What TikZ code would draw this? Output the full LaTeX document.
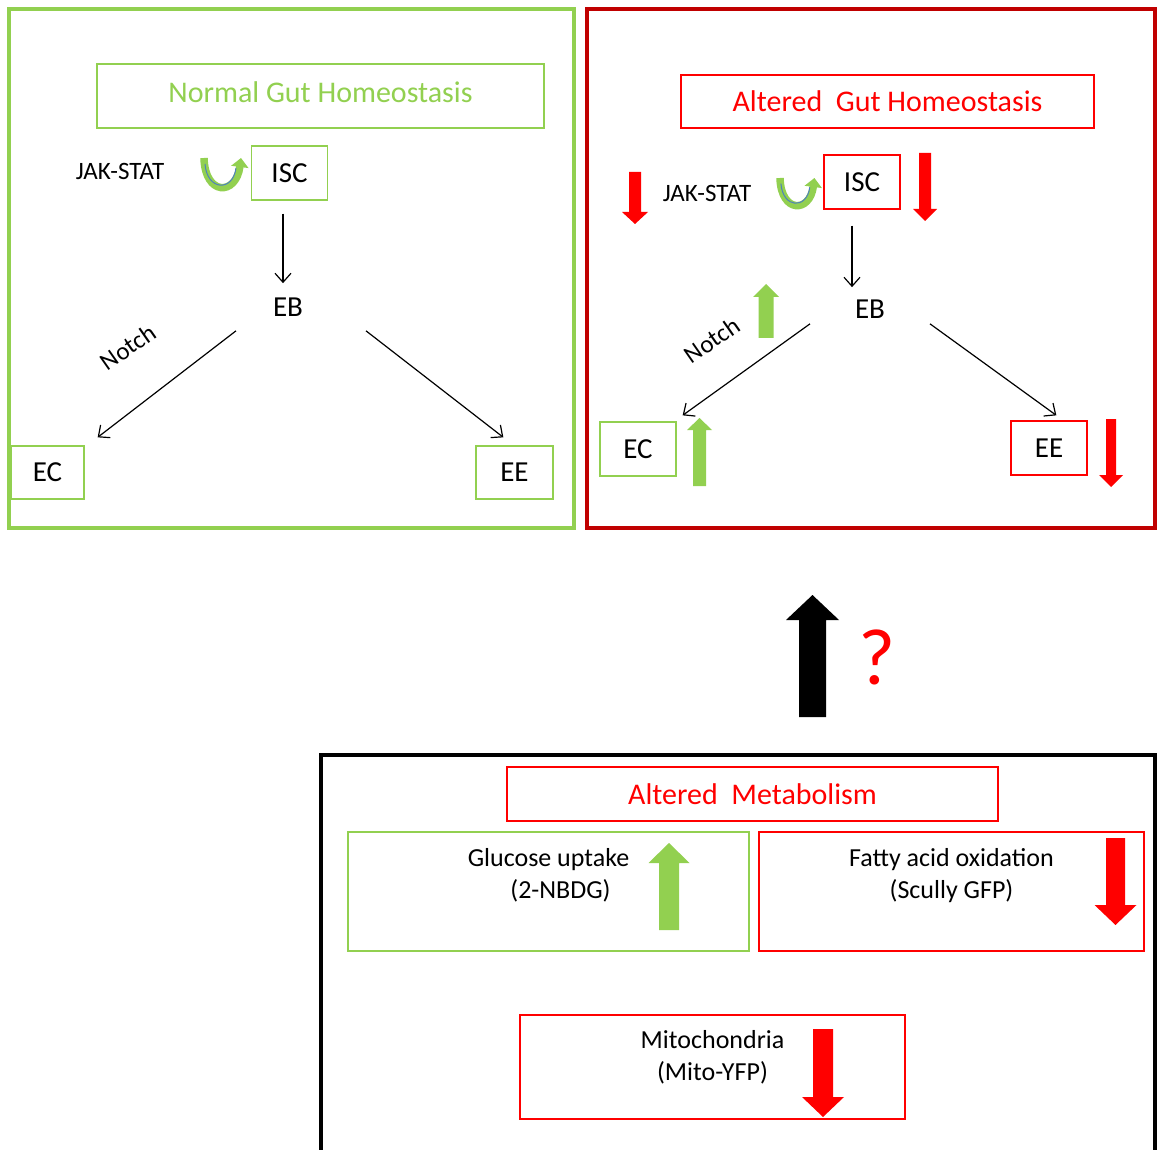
\documentclass[tikz,border=0pt]{standalone}
\usepackage{fontspec}
\setmainfont{Carlito}
\usetikzlibrary{arrows.meta}

\definecolor{leafgreen}{RGB}{146,208,80}
\definecolor{framered}{RGB}{192,0,0}
\definecolor{veinblue}{RGB}{79,129,189}

% block arrow: colour, x, tail y, tip y, half shaft, half head, head length
\newcommand{\blockarrow}[7]{%
  \pgfmathsetmacro\neckY{#4+#7*sign(#3-#4)}
  \fill[#1] (#2-#5,#3) -- (#2-#5,\neckY) -- (#2-#6,\neckY) -- (#2,#4)
    -- (#2+#6,\neckY) -- (#2+#5,\neckY) -- (#2+#5,#3) -- cycle;}

% curved JAK-STAT arrow
\newcommand{\jakarrow}[3]{%
  \begin{scope}[shift={(#1,#2)}, scale=#3]
    \draw[leafgreen, line width=7.5pt, -{Triangle[length=9pt,width=17pt]}]
      (0,0) .. controls (1,38) and (32,38) .. (37,0);
    \draw[veinblue, line width=1pt]
      (1,6) .. controls (3,33) and (29,34) .. (32,10);
  \end{scope}}

\begin{document}
\begin{tikzpicture}[x=1pt, y=-1pt,
    title/.style={draw, line width=1.3pt, text centered, font=\fontsize{30}{36}\selectfont},
    cell/.style={draw, line width=1.3pt, text centered, minimum width=76pt, minimum height=54pt, font=\fontsize{29}{35}\selectfont},
    lbl/.style={font=\fontsize{25}{30}\selectfont},
    big/.style={font=\fontsize{29}{35}\selectfont},
    note/.style={anchor=north, align=center, font=\fontsize{26}{32}\selectfont},
    thinarr/.style={line width=1.2pt, -{Straight Barb[length=9pt,width=16pt]}}]
  \useasboundingbox[fill=white] (0,0) rectangle (1157,1150);

  % Frames
  \draw[leafgreen, line width=3.5pt] (9,9) rectangle (574,528);
  \draw[framered, line width=3.5pt] (587,9) rectangle (1155,528);
  \draw[line width=4pt] (321,1160) -- (321,755) -- (1155,755) -- (1155,1160);

  % Normal gut
  \node[title, leafgreen, minimum width=447pt, minimum height=64pt, text depth=8pt] (normtitle) at (320.5,96) {Normal Gut Homeostasis};
  \node[cell, draw=leafgreen] (isc1) at (289.5,173) {ISC};
  \node[big] (eb1) at (288,307) {EB};
  \node[cell, draw=leafgreen, minimum width=73pt, minimum height=53pt] (ec1) at (47.5,472.5) {EC};
  \node[cell, draw=leafgreen, minimum width=77pt, minimum height=53pt] (ee1) at (514.5,472.5) {EE};
  \node[lbl] (jak1) at (120,171) {JAK-STAT};
  \node[lbl, rotate=35] (notch1) at (128,347) {Notch};
  \jakarrow{204}{158}{1}

  \draw[thinarr] ([shift={(-6.5,13)}]isc1.south) -- ([shift={(-5,-11)}]eb1.north);
  \draw[thinarr] ([shift={(-52,11)}]eb1.south) -- ([shift={(13,-8)}]ec1.north east);
  \draw[thinarr] ([shift={(78,11)}]eb1.south) -- ([shift={(28,-8)}]ee1.north west);

  % Altered gut
  \node[title, red, minimum width=413pt, minimum height=53pt] (alttitle) at (887.5,101.5) {Altered\ \ Gut Homeostasis};
  \node[cell, draw=red] (isc2) at (862,182) {ISC};
  \node[big] (eb2) at (870,309) {EB};
  \node[cell, draw=leafgreen] (ec2) at (638,449) {EC};
  \node[cell, draw=red] (ee2) at (1049,448) {EE};
  \node[lbl] (jak2) at (707,193) {JAK-STAT};
  \node[lbl, rotate=35] (notch2) at (712,340) {Notch};
  \jakarrow{780}{178}{0.93}

  \draw[thinarr] ([shift={(-10,16)}]isc2.south) -- ([shift={(-18,-9)}]eb2.north);
  \draw[thinarr] ([shift={(-60,2)}]eb2.south) -- ([shift={(6,-6)}]ec2.north east);
  \draw[thinarr] ([shift={(60,2)}]eb2.south) -- ([shift={(46,-5)}]ee2.north west);

  \blockarrow{red}{635}{172}{224}{6}{13}{12}
  \blockarrow{red}{925}{153}{221}{6}{12}{12}
  \blockarrow{leafgreen}{766}{338}{284}{7.5}{13}{13}
  \blockarrow{leafgreen}{699.5}{486}{418}{6.5}{12.5}{12}
  \blockarrow{red}{1111}{419}{487}{5}{12}{12}

  % Link
  \blockarrow{black}{812.5}{717}{595}{13.5}{26.5}{25}
  \node[red, font=\fontsize{80}{90}\selectfont] (qmark) at (877,657) {?};

  % Altered metabolism
  \node[title, red, minimum width=491pt, minimum height=54pt] (metatitle) at (752.5,794) {Altered\ \ Metabolism};
  \node[draw=leafgreen, line width=1.3pt, minimum width=401pt, minimum height=119pt] (gluc) at (548.5,891.5) {};
  \node[draw=red, line width=1.3pt, minimum width=385pt, minimum height=119pt] (fatty) at (951.5,891.5) {};
  \node[draw=red, line width=1.3pt, minimum width=385pt, minimum height=104pt] (mito) at (712.5,1067) {};
  \node[note] (gluctxt) at ([shift={(0,14)}]gluc.north) {Glucose uptake\\\hspace*{24pt}(2-NBDG)};
  \node[note] (fattytxt) at ([shift={(0,14)}]fatty.north) {Fatty acid oxidation\\(Scully GFP)};
  \node[note] (mitotxt) at ([shift={(0,13)}]mito.north) {Mitochondria\\(Mito-YFP)};

  \blockarrow{leafgreen}{669}{930}{843}{10}{20.5}{20}
  \blockarrow{red}{1115.5}{838}{925}{9.5}{21}{20}
  \blockarrow{red}{823}{1029}{1117}{10}{21}{20}
\end{tikzpicture}
\end{document}
